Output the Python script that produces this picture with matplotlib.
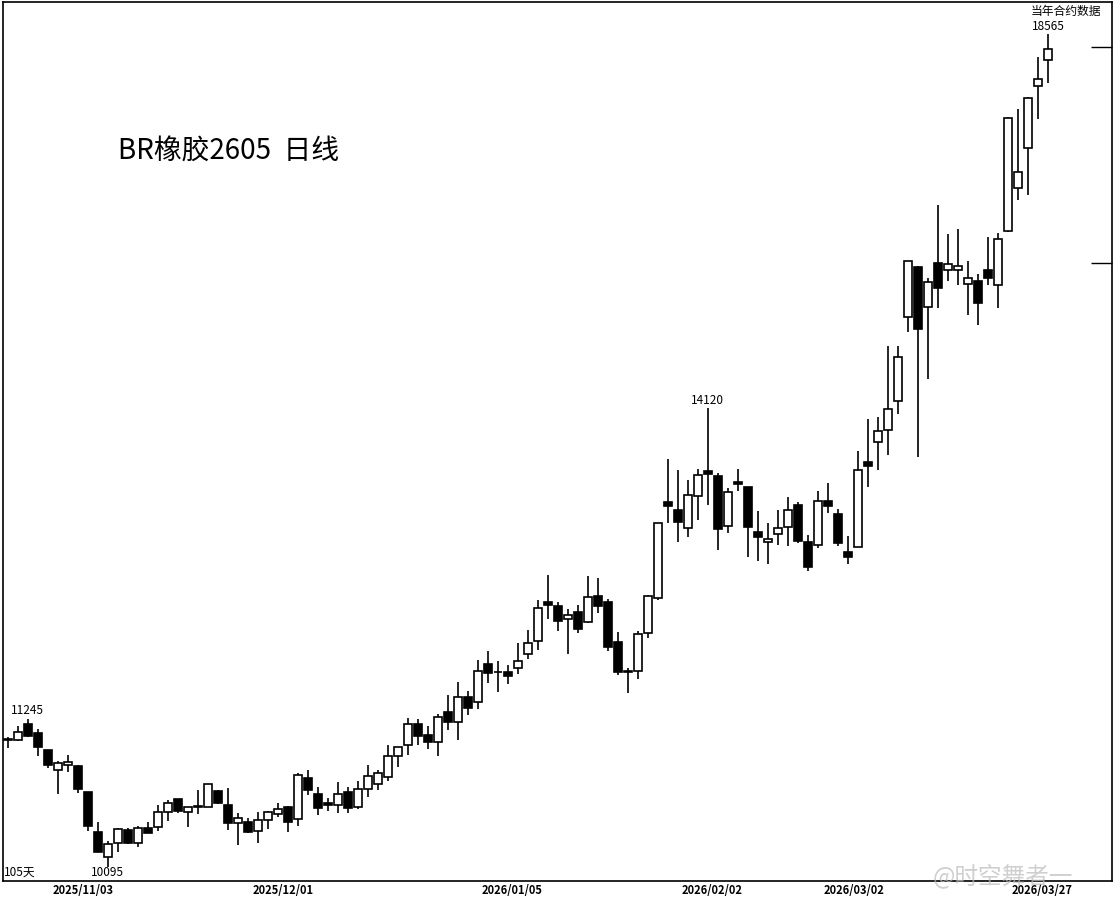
import matplotlib
matplotlib.use("Agg")
import matplotlib.pyplot as plt
import numpy as np

plt.rcParams['font.family'] = ['Noto Sans CJK SC', 'DejaVu Sans']

opens = [11075, 11073, 11206, 11132, 10993, 10833, 10873, 10867, 10662, 10352,
         10166, 10272, 10370, 10272, 10385, 10391, 10508, 10605, 10506, 10544,
         10544, 10670, 10562, 10420, 10428, 10361, 10443, 10491, 10544, 10451,
         10769, 10645, 10575, 10559, 10660, 10549, 10684, 10724, 10782, 10945,
         11033, 11204, 11114, 11057, 11301, 11225, 11427, 11385, 11706, 11637,
         11637, 11671, 11792, 11905, 12249, 12216, 12103, 12162, 12076, 12303,
         12252, 11899, 11640, 11646, 11974, 12288, 13179, 13102, 12934, 13240,
         13484, 13439, 12956, 13376, 13330, 12893, 12805, 12879, 12946, 13153,
         12799, 12776, 13192, 13063, 12706, 12752, 13573, 13776, 13892, 14196,
         15094, 15653, 15198, 15697, 15617, 15617, 15460, 15494, 15617, 15446,
         16075, 16581, 17085, 17866, 18208]
highs = [11099, 11190, 11245, 11165, 10993, 10907, 10955, 10873, 10662, 10430,
         10284, 10388, 10388, 10400, 10430, 10562, 10600, 10605, 10544, 10678,
         10725, 10678, 10691, 10498, 10459, 10506, 10518, 10575, 10556, 10809,
         10835, 10701, 10616, 10740, 10701, 10748, 10875, 10835, 11035, 11017,
         11255, 11245, 11190, 11288, 11446, 11555, 11480, 11743, 11820, 11734,
         11697, 11887, 12003, 12270, 12496, 12252, 12186, 12225, 12487, 12468,
         12276, 11986, 11671, 11994, 12318, 12982, 13603, 13494, 13396, 13504,
         14120, 13461, 13318, 13504, 13330, 13095, 12979, 13102, 13230, 13179,
         12867, 13288, 13363, 13115, 12858, 13683, 14004, 14028, 14775, 14775,
         15722, 15667, 15526, 16380, 16036, 16095, 15726, 15577, 16001, 16052,
         17468, 17570, 17730, 18252, 18565]
lows = [11011, 11070, 11102, 10950, 10853, 10649, 10822, 10657, 10363, 10202,
        10095, 10207, 10262, 10240, 10344, 10365, 10440, 10496, 10395, 10491,
        10544, 10569, 10370, 10259, 10350, 10272, 10380, 10472, 10352, 10403,
        10639, 10486, 10518, 10503, 10503, 10533, 10626, 10678, 10751, 10861,
        10955, 11038, 11006, 10950, 11157, 11075, 11280, 11332, 11547, 11474,
        11541, 11623, 11754, 11829, 12103, 11997, 11795, 11979, 12067, 12156,
        11823, 11617, 11465, 11583, 11935, 12270, 12979, 12804, 12851, 13009,
        13153, 12727, 12889, 13291, 12665, 12628, 12598, 12770, 12764, 12790,
        12535, 12748, 13079, 12767, 12601, 12752, 13330, 13494, 13642, 14059,
        14930, 13623, 14422, 15194, 15497, 15449, 15113, 15003, 15449, 15194,
        16063, 16445, 16502, 17446, 17912]
closes = [11078, 11138, 11110, 11022, 10877, 10889, 10899, 10688, 10401, 10207,
          10265, 10376, 10269, 10385, 10344, 10506, 10575, 10514, 10544, 10546,
          10725, 10574, 10425, 10459, 10358, 10443, 10506, 10529, 10433, 10793,
          10680, 10541, 10562, 10645, 10541, 10684, 10787, 10811, 10945, 11017,
          11204, 11110, 11062, 11262, 11225, 11427, 11340, 11646, 11634, 11640,
          11608, 11731, 11887, 12195, 12228, 12085, 12133, 12014, 12294, 12218,
          11855, 11642, 11642, 11968, 12306, 12979, 13146, 12987, 13250, 13449,
          13451, 12927, 13279, 13359, 12946, 12851, 12827, 12931, 13102, 12811,
          12574, 13189, 13146, 12792, 12665, 13494, 13536, 13881, 14109, 14653,
          15722, 14966, 15479, 15418, 15686, 15663, 15528, 15250, 15535, 15974,
          17464, 16784, 17709, 17957, 18359]

date_labels = ["2025/11/03", "2025/12/01", "2026/01/05", "2026/02/02", "2026/03/02", "2026/03/27"]
date_pos = [7.5, 27.5, 50.4, 70.4, 84.6, 103.4]

fig = plt.figure(figsize=(11.15, 9.01), dpi=100)
W, H = 1115, 901
ax = fig.add_axes([3 / W, 1 - 881 / H, 1109 / W, 879 / H])
ax.set_yscale('log')
ax.set_xlim(-0.5, 110.4)
ax.set_ylim(9990, 19004)

o = np.array(opens, float); c = np.array(closes, float)
h = np.array(highs, float); l = np.array(lows, float)
x = np.arange(len(o))
up = c >= o
ax.vlines(x, l, h, color='black', lw=1.2, zorder=1)
bot = np.minimum(o, c); top = np.maximum(o, c)
hei = np.maximum(top - bot, 6)
ax.bar(x[up], hei[up], bottom=bot[up], width=0.8, facecolor='white', edgecolor='black', lw=1.2, zorder=2)
ax.bar(x[~up], hei[~up], bottom=bot[~up], width=0.8, facecolor='black', edgecolor='black', lw=1.2, zorder=2)

for s in ax.spines.values():
    s.set_linewidth(1.2)
ax.set_xticks([])
ax.yaxis.set_ticks_position('right')
ax.set_yticks([18389, 15700])
ax.set_yticklabels([])
ax.yaxis.set_minor_locator(matplotlib.ticker.NullLocator())
ax.tick_params(axis='y', direction='in', length=15, width=1)

blend = matplotlib.transforms.blended_transform_factory(ax.transData, fig.transFigure)
for lab, p in zip(date_labels, date_pos):
    ax.text(p, 1 - 890 / H, lab, transform=blend, ha='center', va='center',
            fontsize=8, fontweight='bold', clip_on=False)

def ftext(px, py, s, **kw):
    fig.text(px / W, 1 - py / H, s, va='center', **kw)

ftext(27, 710, "11245", ha='center', fontsize=8.5)
ftext(107, 873, "10095", ha='center', fontsize=8.5)
ftext(707, 400, "14120", ha='center', fontsize=8.5)
ftext(1048, 27, "18565", ha='center', fontsize=8.5)
ftext(1066, 11, "当年合约数据", ha='center', fontsize=8.5)
ftext(4, 872, "105天", ha='left', fontsize=8.5)
ftext(118, 152, "BR橡胶2605  日线", ha='left', fontsize=20)
ftext(1003, 876, "@时空舞者一", ha='center', fontsize=17, color='#bbbbbb', alpha=0.7)

fig.savefig("out.png", dpi=100)
